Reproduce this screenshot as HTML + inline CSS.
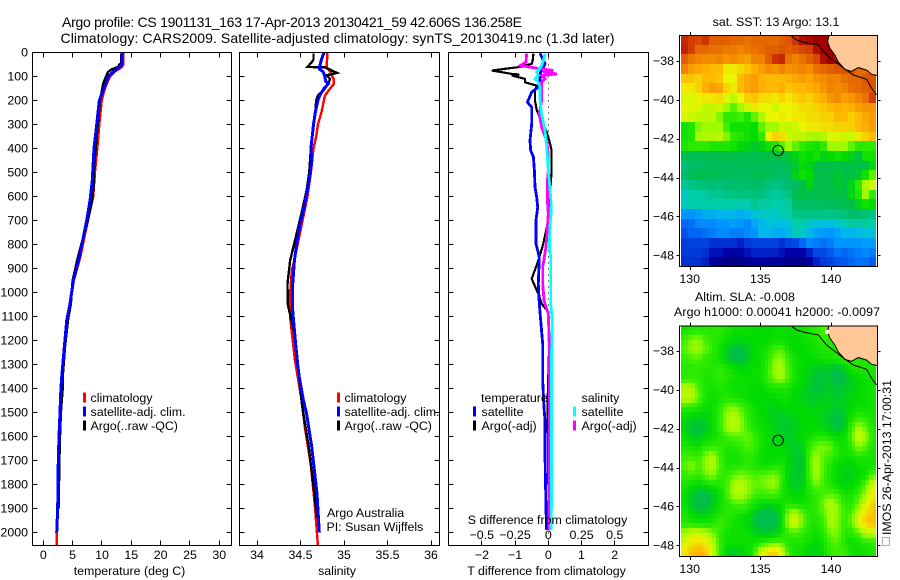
<!DOCTYPE html>
<html>
<head>
<meta charset="utf-8">
<title>Argo profile</title>
<style>
html,body{margin:0;padding:0;background:#fff;}
svg{display:block;}
text{font-family:"Liberation Sans",sans-serif;font-size:12.4px;fill:#000;}
.ttl{font-size:14px;}
</style>
</head>
<body>
<svg id="chart" xmlns="http://www.w3.org/2000/svg" width="900" height="580" viewBox="0 0 900 580">
  <rect width="900" height="580" fill="#fff"/>
  <text class="ttl" x="62" y="27" textLength="460" lengthAdjust="spacing">Argo profile: CS 1901131_163 17-Apr-2013 20130421_59 42.606S 136.258E</text>
  <text class="ttl" x="60.5" y="43" textLength="554" lengthAdjust="spacing">Climatology: CARS2009. Satellite-adjusted climatology: synTS_20130419.nc (1.3d later)</text>
  <g id="layer-maps"></g>
  <g id="layer-panels"></g>

  <text x="129.5" y="575" text-anchor="middle">temperature (deg C)</text>
  <text x="337" y="575" text-anchor="middle">salinity</text>
  <text x="546.5" y="575" text-anchor="middle">T difference from climatology</text>
  <text x="547.5" y="524" text-anchor="middle">S difference from climatology</text>

  <g>
    <rect x="83" y="392.5" width="3" height="10" fill="#f00"/>
    <rect x="83" y="406.5" width="3" height="10" fill="#00f"/>
    <rect x="83" y="420.5" width="3" height="10" fill="#000"/>
    <text x="90.5" y="402">climatology</text>
    <text x="90.5" y="416">satellite-adj. clim.</text>
    <text x="90.5" y="430">Argo(..raw -QC)</text>
  </g>
  <g>
    <rect x="337" y="392.5" width="3" height="10" fill="#f00"/>
    <rect x="337" y="406.5" width="3" height="10" fill="#00f"/>
    <rect x="337" y="420.5" width="3" height="10" fill="#000"/>
    <text x="344.5" y="402">climatology</text>
    <text x="344.5" y="416">satellite-adj. clim.</text>
    <text x="344.5" y="430">Argo(..raw -QC)</text>
  </g>
  <text x="327" y="517">Argo Australia</text>
  <text x="326.5" y="531">PI: Susan Wijffels</text>

  <g>
    <text x="481" y="402">temperature</text>
    <rect x="473" y="406.5" width="3" height="10" fill="#00f"/>
    <rect x="473" y="420.5" width="3" height="10" fill="#000"/>
    <text x="481.5" y="416">satellite</text>
    <text x="481.5" y="430">Argo(-adj)</text>
    <text x="581.5" y="402">salinity</text>
    <rect x="573" y="406.5" width="3" height="10" fill="#0ff"/>
    <rect x="573" y="420.5" width="3" height="10" fill="#f0f"/>
    <text x="581.5" y="416">satellite</text>
    <text x="581.5" y="430">Argo(-adj)</text>
  </g>

  <text x="776" y="26" text-anchor="middle">sat. SST: 13 Argo: 13.1</text>
  <text x="695" y="301">Altim. SLA: -0.008</text>
  <text x="674" y="316" textLength="206" lengthAdjust="spacing">Argo h1000: 0.00041 h2000: -0.0097</text>
  <rect x="882.5" y="537.5" width="7" height="8" fill="none" stroke="#555" stroke-dasharray="1 1"/>
  <text transform="translate(891,535) rotate(-90)" textLength="155" lengthAdjust="spacing">IMOS 26-Apr-2013 17:00:31</text>
</svg>
<script>
// ---- Axis tick data ----
const depthTicks = [0,100,200,300,400,500,600,700,800,900,1000,1100,1200,1300,1400,1500,1600,1700,1800,1900,2000];
const tempTicks = [0,5,10,15,20,25,30];
const salTicks = [34,34.5,35,35.5,36];
const salTickLabels = ['34','34.5','35','35.5','36'];
const tDiffTicks = [-2,-1,0,1,2];
const tDiffLabels = ['\u22122','\u22121','0','1','2'];
const sDiffTicks = [-0.5,-0.25,0,0.25,0.5];
const sDiffLabels = ['\u22120.5','\u22120.25','0','0.25','0.5'];
const lonTicks = [130,135,140];
const latTicks = [-38,-40,-42,-44,-46,-48];

// ---- Temperature profile series ----
const tempClimDepth = [0,50,60,80,100,130,150,200,300,400,500,600,700,770,853,950,1047,1117,1228,1353,1400,1500,1600,1700,1800,1900,2000,2054];
const tempClimValue = [13.64,13.6,13.4,12.2,11.4,10.8,10.5,9.95,9.55,9.2,8.8,8.5,7.6,7.0,6.3,5.2,4.6,4.05,3.62,3.18,3.0,2.8,2.65,2.52,2.48,2.39,2.3,2.3];
const tempArgoDepth = [5,45,50,60,70,80,100,130,150,200,350,400,500,533,617,700,770,853,950,1047,1117,1228,1353,1400,1500,1600,1700,1900];
const tempArgoValue = [13.3,13.3,12.96,12.8,11.66,11.08,10.69,10.2,10.06,9.66,9.1,8.93,8.6,8.7,8.3,7.6,6.8,5.9,5.0,4.7,4.2,3.7,3.3,3.3,3.0,2.85,2.75,2.6];
const tempSatDepth = [0,50,60,80,100,130,150,200,300,400,500,533,617,700,770,853,950,1047,1117,1228,1353,1400,1500,1600,1700,1900,2000];
const tempSatValue = [13.47,13.4,13.07,11.93,11.08,10.69,10.35,9.55,9.1,8.64,8.42,8.36,7.96,7.4,6.82,6.14,5.12,4.55,3.98,3.58,3.14,3.0,2.85,2.68,2.56,2.45,2.28];

// ---- Salinity profile series ----
const salClimDepth = [0,60,80,110,130,150,180,250,300,350,400,500,600,853,908,1006,1103,1200,1283,1367,1443,1561,1714,1894,2054];
const salClimValue = [34.81,34.8,34.84,34.88,34.885,34.84,34.78,34.74,34.7,34.68,34.65,34.62,34.58,34.437,34.4,34.38,34.38,34.41,34.437,34.475,34.51,34.55,34.617,34.667,34.7];
const salArgoDepth = [5,30,40,60,62,70,85,95,110,130,150,180,200,250,300,400,500,575,672,783,867,964,1047,1103,1186,1463,1645,1839,1940];
const salArgoValue = [34.65,34.65,34.63,34.58,34.78,34.83,34.92,34.8,34.84,34.82,34.78,34.7,34.68,34.67,34.65,34.62,34.6,34.57,34.51,34.437,34.38,34.35,34.353,34.387,34.44,34.515,34.595,34.66,34.69];
const salSatDepth = [0,30,60,70,80,100,120,130,150,180,200,250,300,400,450,533,630,728,797,867,964,1075,1186,1269,1353,1443,1506,1645,1839,2000];
const salSatValue = [34.77,34.74,34.72,34.72,34.76,34.78,34.79,34.82,34.77,34.72,34.7,34.67,34.65,34.62,34.63,34.6,34.55,34.49,34.456,34.43,34.41,34.41,34.437,34.456,34.486,34.53,34.57,34.63,34.69,34.716];

// ---- Difference-from-climatology series ----
const diffTArgoDepth = [5,33,47,61,75,89,92,96,110,124,138,160,200,240,289,330,367,408,450,492,700,797,867,943,1006,1047,1082,1242,1460,1800];
const diffTArgoValue = [-0.45,-0.47,-0.5,-0.9,-1.7,-1.1,-0.87,-1.1,-0.7,-0.7,-0.35,-0.4,-0.4,-0.35,-0.2,-0.05,0.03,0.1,0.1,0.1,0,-0.15,-0.3,-0.5,-0.3,-0.2,0,0.02,-0.02,0];
const diffTSatDepth = [3,33,47,89,117,144,165,207,228,297,367,408,436,492,561,603,644,700,797,853,964,1047,1117,1214,1367,1478,1534,1672,1900,1990];
const diffTSatValue = [-0.25,-0.15,-0.1,-0.25,-0.25,-0.3,-0.5,-0.63,-0.5,-0.5,-0.55,-0.53,-0.45,-0.42,-0.4,-0.35,-0.32,-0.37,-0.37,-0.27,-0.3,-0.27,-0.23,-0.17,-0.17,-0.13,-0.1,-0.1,-0.07,-0.05];
const diffSArgoDepth = [5,40,54,68,75,82,89,96,110,124,158,200,256,311,367,422,492,533,617,672,728,811,894,964,1033,1089,1242,1450,1800,1990];
const diffSArgoValue = [-0.163,-0.168,-0.21,-0.06,0.038,-0.037,0.063,-0.05,-0.025,-0.05,-0.05,-0.05,-0.068,-0.05,-0.012,0,0,-0.007,-0.007,0,-0.007,-0.017,-0.042,-0.042,-0.032,0,0.008,0.008,0.003,0.003];
const diffSSatDepth = [5,33,54,82,96,110,124,144,200,256,325,394,492,561,631,672,728,811,853,1047,1117,1242,1367,1840,1990];
const diffSSatValue = [-0.025,-0.037,-0.05,-0.087,-0.075,-0.1,-0.075,-0.062,-0.062,-0.05,-0.025,-0.012,0,0.012,0.02,0.02,0.012,0.008,0.018,0.018,0.03,0.025,0.025,0.025,0.02];

// ---- Map data (0.5 degree rows, north to south) ----
const sstGrid = [
[16.5,16.3,16.2,16.4,16,16,16,15.9,15.9,15.8,15.9,15.9,15.9,15.9,16,16.1,16.4,16.8,16.9,17,17,17,16,16,16,16,16,16],
[16.6,16.3,15.9,15.9,15.8,15.8,15.7,15.7,15.6,15.7,15.8,15.9,16,16,16.1,16,16.1,16.2,16.3,16.8,17,17,16.8,16.5,16.5,16.5,16.5,16.5],
[16,15.7,15.6,15.5,15.5,15.6,15.4,15.5,15.4,15.3,15.6,15.6,16,16.4,16.5,15.8,15.6,15.8,16,16.2,16.8,17,16.8,16.5,16.4,16.3,16.3,16.3],
[15.6,15.3,15.2,15.1,15,15,14.6,14.6,14.7,14.9,15.1,15.3,15.5,15.4,15.6,15.4,15.5,15.6,15.5,15.8,15.9,16,16.1,16.1,16.1,15.9,15.9,15.9],
[14.9,14.9,14.8,15,15,14.9,14.5,14.5,15,15.2,15.3,15.1,15,15,15,15.1,15.2,15.3,15.2,15.4,15.5,15.6,15.6,15.8,15.9,15.9,16.1,16.1],
[14.6,14.6,14.8,15.1,15.3,15.2,14.8,14.6,15,15.2,15.3,15.1,15,15,15.1,14.9,15,15,15.1,15.2,15.4,15.6,15.5,15.6,15.8,15.9,16,16.1],
[14.4,14.4,14.5,14.6,14.6,14.7,14.4,14.2,14.5,14.8,14.9,14.7,14.7,14.6,14.8,14.6,14.8,14.9,14.8,15,15.1,15.4,15.5,15.3,15.4,15.6,15.8,16.3],
[14.5,14.4,14.4,14.2,14.2,14.3,14,13.8,14,14.3,14.6,14.5,14.5,14.3,14.5,14.5,14.6,14.7,14.7,14.8,14.9,15,15.1,15,15.1,15.3,15.4,15.4],
[14.4,14.3,14.2,14.2,14.2,13.9,13.6,13.6,13.7,13.5,13.8,14.1,14.5,14.5,14.6,14.5,14.6,14.6,14.7,14.7,14.8,14.8,15,15,14.8,15,15.2,15.3],
[13.4,13.5,13.9,14,14,14,13.7,13.4,13.4,13.4,13.3,13.8,14,14,14.3,14.2,14.3,14.5,14.6,14.6,14.7,14.7,14.8,14.8,14.8,15,15.1,15.3],
[13.4,13.5,14,14.1,14.1,14.2,13.9,13.6,13.5,13.4,13.3,13.6,14.5,14.8,14.7,14.3,14.2,14.2,14.1,14,14.1,14.4,14.4,14.3,14.3,14.6,14.8,15],
[13.5,13.6,13.6,13.6,13.5,13.5,13.5,13.4,13.3,13.2,13.1,13.2,13.4,13.5,13.8,14,13.8,13.6,13.5,13.4,13.6,14,14,14,13.8,13.6,13.6,13.6],
[12.9,12.9,12.8,12.9,12.9,12.9,13,12.9,12.9,12.9,12.9,12.9,13,13,13,13.1,13.2,13.4,13.3,13.4,13.2,13.3,13.4,13.3,13.2,13,13.4,13.4],
[12.4,12.6,12.6,12.7,12.8,12.7,12.7,12.7,12.7,12.8,12.8,12.8,12.7,12.7,12.7,12.9,13.1,13.3,13.2,13,13,12.9,13,12.9,13,13,13,13.3],
[12.6,12.8,12.9,12.9,12.8,12.8,12.7,12.7,12.7,12.7,12.8,12.9,12.8,12.7,12.6,12.7,13.2,13.4,13.3,13,13,13,13.1,13,13,13.1,13.4,13.8],
[12.2,12.3,12.4,12.4,12.5,12.4,12.5,12.5,12.5,12.6,12.6,12.6,12.4,12.3,12.4,12.5,12.7,13,13.2,13,12.9,13,13.1,13,13.2,13.6,14.1,14.3],
[11.8,12,12,12.1,12.2,12.2,12.3,12.3,12.4,12.3,12.4,12.4,12.2,12.1,12.2,12.3,12.9,13,12.9,12.9,13,13,13,13,13.2,13.5,14,13.6],
[11.9,12,12,12,12,12,12,12,11.9,12,12.2,12.1,12.1,12,12,12.1,12.6,12.6,12.6,12.6,12.7,12.7,12.8,12.9,13,13.2,13.4,13.3],
[11,11,11.1,11.3,11.3,11.4,11.4,11.4,11.3,11.4,11.6,11.8,11.8,11.8,11.9,12,12.3,12.3,12.3,12.3,12.3,12.3,12.3,12.4,12.5,12.5,12.4,12.3],
[10.6,10.7,10.9,10.9,10.9,11,11,11.1,11,10.9,11.2,11.4,11.6,11.6,11.5,11.6,12,12,11.8,11.6,11.6,11.5,11.7,12,12.1,12.1,12.1,12],
[10.4,10.6,10.6,10.7,10.8,10.9,10.9,10.8,10.8,10.9,11,11.4,11.4,11.3,11.3,11.4,11.9,11.8,11.4,11.2,11.1,11,11.2,11.4,11.4,11.5,11.6,11.7],
[10.1,10.2,10.2,10.2,10,10,10,10,9.9,10.1,10.2,10.2,10.2,10.2,10,10.2,10.3,10.6,10.9,10.8,10.7,10.8,11,11,11,11,11.1,11.1],
[10.1,10.1,10.1,10,9.8,9.8,9.7,9.6,9.7,9.8,9.9,9.9,9.9,9.9,9.8,9.7,9.7,9.7,9.9,10.3,10.3,10.5,10.7,10.6,10.7,10.8,10.9,10.8],
[10,10,10,9.9,9.6,9.4,9.3,9.3,9.3,9.5,9.6,9.6,9.5,9.5,9.5,9.4,9.4,9.4,9.6,9.9,10.1,10.2,10.4,10.5,10.6,10.7,10.7,10.5]
];
// Sea level anomaly in centimetres
const slaGrid = [
[2,3,4,4,4,5,3,1,1,1,1,0,0,1,1,1,1,2,3,5,8,6,2,2,2,2,2,2],
[6,10,11,7,5,3,1,0,-1,0,0,0,0,1,1,0,0,1,2,3,5,4,2,2,2,2,2,2],
[8,11,12,9,5,2,-2,-5,-6,-3,0,1,3,7,8,2,0,0,1,2,3,3,3,4,2,2,2,2],
[5,7,8,5,4,2,-2,-5,-6,-3,0,1,5,10,11,5,1,0,0,1,2,3,4,6,5,4,3,3],
[4,4,5,4,4,5,4,1,0,0,1,1,6,12,13,6,2,0,-1,-3,-3,-4,-6,-2,2,3,3,3],
[5,6,5,3,3,5,4,2,1,1,1,2,6,10,12,7,2,0,-2,-5,-3,-4,-6,-4,-2,0,1,1],
[14,13,8,3,2,3,2,1,1,1,0,0,2,3,3,2,0,-1,-3,-5,-3,-3,-4,-3,-2,0,1,2],
[15,14,9,2,1,2,4,3,2,1,0,-1,0,0,1,1,-1,-2,-3,-3,-2,-2,-3,-2,-1,0,1,2],
[5,5,3,1,1,4,9,10,8,4,1,0,-1,-2,0,0,0,0,-1,-1,-1,-2,-3,-2,0,1,1,2],
[0,-1,-2,-2,1,5,11,14,11,5,2,0,-1,-2,-3,-2,-1,0,0,-1,-2,-4,-5,-3,2,5,4,2],
[-1,-4,-5,-3,0,5,11,15,12,6,3,1,0,-2,-3,-3,-2,-1,0,0,-1,-3,-5,-2,6,13,8,3],
[1,-3,-4,-1,1,3,7,8,8,9,6,2,0,-1,-2,-3,-1,0,1,3,3,1,0,1,8,18,12,4],
[3,2,1,4,5,5,3,4,5,8,6,2,0,0,0,-2,-3,-1,5,9,10,9,3,2,5,12,8,3],
[6,6,5,10,13,7,3,1,3,5,4,1,0,0,1,-1,-3,-3,7,12,8,6,3,1,2,4,3,2],
[8,11,7,11,14,8,3,3,3,4,3,1,1,2,3,-1,-3,-4,8,13,7,3,0,-1,-1,1,1,2],
[5,7,5,9,11,6,5,8,10,9,7,8,9,10,5,-1,-3,-3,7,13,7,2,0,-2,-2,0,2,8],
[3,1,-1,1,3,3,6,12,15,11,9,9,11,12,4,-1,-3,-2,5,10,6,3,0,-1,0,2,8,18],
[1,-2,-5,-6,-3,0,6,13,14,11,7,6,7,7,3,0,-1,0,3,5,7,8,6,2,2,6,12,20],
[1,-3,-6,-6,-3,1,4,6,8,6,2,0,-1,0,1,4,1,2,3,5,10,14,10,4,4,10,18,26],
[3,0,-2,-2,0,3,4,3,2,1,-3,-6,-7,-5,0,12,15,8,4,5,8,13,11,6,8,16,24,27],
[4,3,2,2,3,6,5,2,1,-1,-4,-6,-7,-5,0,14,17,9,4,3,6,14,10,5,9,19,26,29],
[12,16,16,14,10,6,2,1,1,1,-1,-3,-3,-2,2,6,7,5,3,1,4,10,10,4,4,8,14,14],
[17,22,24,22,15,6,1,2,1,2,2,4,6,8,7,3,2,3,1,-1,2,7,8,3,1,2,4,5],
[22,27,30,27,18,6,-1,-3,-1,0,5,17,24,26,18,5,2,1,-1,-2,1,5,7,6,2,1,2,3]
];
const coastLon = [139.86,139.76,139.93,140.28,140.52,140.99,141.46,141.93,142.52,142.87,143.28];
const coastLat = [-36.66,-37.0,-37.35,-37.7,-38.05,-38.44,-38.53,-38.34,-38.47,-38.68,-38.75];
const isobathLon = [137.1,137.57,138.16,139.1,139.7,140.75,141.58,142.52,142.87,143.23];
const isobathLat = [-36.66,-36.92,-37.05,-37.17,-37.7,-38.29,-38.72,-38.94,-39.4,-39.75];
const profileLon = 136.258;
const profileLat = -42.606;

// ---- Scales ----
const NS = 'http://www.w3.org/2000/svg';
const root = document.getElementById('chart');
const panelLayer = document.getElementById('layer-panels');
const mapLayer = document.getElementById('layer-maps');
const panelTop = 52.5, panelBottom = 545.5;
function depthY(d){ return 52.5 + d * 0.24; }
function tempX(v){ return 43.3 + v * 5.867; }
function salX(v){ return 257 + (v - 34) * 87; }
function tDiffX(v){ return 548.3 + v * 33.2; }
function sDiffX(v){ return 548.3 + v * 133; }

function el(tag, attrs, parent){
  const e = document.createElementNS(NS, tag);
  for (const k in attrs) e.setAttribute(k, attrs[k]);
  parent.appendChild(e);
  return e;
}

function drawSeries(depths, values, xFn, colour, width, name){
  const pts = depths.map((d, i) => xFn(values[i]).toFixed(1) + ',' + depthY(d).toFixed(1)).join(' ');
  const line = el('polyline', {points: pts, fill: 'none', stroke: colour, 'stroke-width': width, 'shape-rendering': 'crispEdges', 'stroke-linejoin': 'miter'}, panelLayer);
  
  
}

function drawPanel(x0, x1, xTickPos, xTickText, showDepthLabels, name){
  const box = el('rect', {x: x0, y: panelTop, width: x1 - x0, height: panelBottom - panelTop, fill: 'none', stroke: '#000', 'stroke-width': 1, 'shape-rendering': 'crispEdges'}, panelLayer);
  
  
  depthTicks.forEach(d => {
    const y = Math.round(depthY(d) - 0.5) + 0.5;
    const t1 = el('line', {x1: x0, x2: x0 + 5, y1: y, y2: y, stroke: '#000', 'shape-rendering': 'crispEdges'}, panelLayer);
    
    
    const t2 = el('line', {x1: x1 - 5, x2: x1, y1: y, y2: y, stroke: '#000', 'shape-rendering': 'crispEdges'}, panelLayer);
    
    
    if (showDepthLabels) {
      const lab = el('text', {x: x0 - 4.5, y: depthY(d) + 4, 'text-anchor': 'end'}, panelLayer);
      lab.textContent = d;
      
      
    }
  });
  xTickPos.forEach((x, i) => {
    const xp = Math.round(x - 0.5) + 0.5;
    const t1 = el('line', {x1: xp, x2: xp, y1: panelTop, y2: panelTop + 5, stroke: '#000', 'shape-rendering': 'crispEdges'}, panelLayer);
    
    
    const t2 = el('line', {x1: xp, x2: xp, y1: panelBottom - 5, y2: panelBottom, stroke: '#000', 'shape-rendering': 'crispEdges'}, panelLayer);
    
    
    const lab = el('text', {x: x, y: 559, 'text-anchor': 'middle'}, panelLayer);
    lab.textContent = xTickText[i];
    
    
  });
}

// ---- Panels ----
drawSeries(tempClimDepth, tempClimValue, tempX, '#f00', 2.4, 'temperature-climatology-line');
drawSeries(tempArgoDepth, tempArgoValue, tempX, '#000', 2.4, 'temperature-argo-line');
drawSeries(tempSatDepth, tempSatValue, tempX, '#00f', 3, 'temperature-satellite-line');
drawPanel(32.5, 231.5, tempTicks.map(tempX), tempTicks.map(String), true, 'temperature-panel');

drawSeries(salClimDepth, salClimValue, salX, '#f00', 2.4, 'salinity-climatology-line');
drawSeries(salArgoDepth, salArgoValue, salX, '#000', 2.4, 'salinity-argo-line');
drawSeries(salSatDepth, salSatValue, salX, '#00f', 3, 'salinity-satellite-line');
drawPanel(239.5, 439.5, salTicks.map(salX), salTickLabels, false, 'salinity-panel');

const zeroLine = el('line', {x1: tDiffX(0), x2: tDiffX(0), y1: panelTop, y2: panelBottom, stroke: '#000', 'stroke-dasharray': '1 5', 'shape-rendering': 'crispEdges'}, panelLayer);


drawSeries(diffTArgoDepth, diffTArgoValue, tDiffX, '#000', 2.2, 'diff-t-argo-line');
drawSeries(diffTSatDepth, diffTSatValue, tDiffX, '#00f', 2.8, 'diff-t-satellite-line');
drawSeries(diffSArgoDepth, diffSArgoValue, sDiffX, '#f0f', 2.8, 'diff-s-argo-line');
drawSeries(diffSSatDepth, diffSSatValue, sDiffX, '#0ff', 2.8, 'diff-s-satellite-line');
drawPanel(448.5, 648.5, tDiffTicks.map(tDiffX), tDiffLabels, false, 'difference-panel');
sDiffTicks.forEach((v, i) => {
  const lab = el('text', {x: sDiffX(v), y: 539, 'text-anchor': 'middle'}, panelLayer);
  lab.textContent = sDiffLabels[i];
  
  
});

// ---- Maps ----
function lonX(lon){ return 689.7 + (lon - 130) * 14.13; }
function latY(lat, y38){ return y38 + (-38 - lat) * 19.43; }

const colourStops = [
  [9.3,0,0,130],[9.7,0,0,170],[10,0,50,210],[10.5,0,90,240],[11,0,150,255],[11.5,0,190,230],
  [12,0,205,170],[12.5,0,190,110],[13,0,190,70],[13.3,0,220,0],[13.7,60,240,0],[14,160,250,0],
  [14.5,235,245,0],[15,255,185,0],[15.5,245,140,0],[16,225,95,0],[16.5,200,40,0],[17,160,0,0]
];
function colourFor(v){
  const s = colourStops;
  if (v <= s[0][0]) return 'rgb(' + s[0].slice(1) + ')';
  for (let i = 1; i < s.length; i++) {
    if (v <= s[i][0]) {
      const f = (v - s[i-1][0]) / (s[i][0] - s[i-1][0]);
      const c = [1,2,3].map(k => Math.round(s[i-1][k] + f * (s[i][k] - s[i-1][k])));
      return 'rgb(' + c + ')';
    }
  }
  return 'rgb(' + s[s.length-1].slice(1) + ')';
}
function slaColourValue(cm){ return 13.3 + cm * 0.06; }

// Sample a grid at fractional row/column, for the smooth altimetry field.
function sampleGrid(grid, r, c){
  const maxR = grid.length - 1, maxC = grid[0].length - 1;
  const rr = Math.max(0, Math.min(maxR, r)), cc = Math.max(0, Math.min(maxC, c));
  const r0 = Math.floor(rr), c0 = Math.floor(cc);
  const r1 = Math.min(maxR, r0 + 1), c1 = Math.min(maxC, c0 + 1);
  const fr = rr - r0, fc = cc - c0;
  return (grid[r0][c0] * (1 - fc) + grid[r0][c1] * fc) * (1 - fr) + (grid[r1][c0] * (1 - fc) + grid[r1][c1] * fc) * fr;
}

function drawMap(name, grid, toScale, y38, top, bottom, sub){
  const clipId = name + '-clip';
  const defs = el('defs', {}, mapLayer);
  const cp = el('clipPath', {id: clipId}, defs);
  el('rect', {x: 679.5, y: top, width: 198, height: bottom - top}, cp);
  const g = el('g', {'clip-path': 'url(#' + clipId + ')'}, mapLayer);
  
  
  const rows = grid.length * sub, cols = grid[0].length * sub;
  const dataLeft = 681, dataWidth = 195, rowH = (bottom - top) / rows, colW = dataWidth / cols;
  for (let r = 0; r < rows; r++) {
    for (let c = 0; c < cols; c++) {
      const v = sampleGrid(grid, (r + 0.5) / sub - 0.5, (c + 0.5) / sub - 0.5);
      const x0 = Math.round(dataLeft + c * colW), x1 = Math.round(dataLeft + (c + 1) * colW);
      const y0 = Math.round(top + r * rowH), y1 = Math.round(top + (r + 1) * rowH);
      const cell = el('rect', {x: x0, y: y0, width: x1 - x0, height: y1 - y0, fill: colourFor(toScale(v)), 'shape-rendering': 'crispEdges'}, g);
      
      
    }
  }
  const landPts = coastLon.map((lon, i) => lonX(lon).toFixed(1) + ',' + latY(coastLat[i], y38).toFixed(1));
  const land = el('polygon', {points: landPts.join(' ') + ' 880,' + latY(coastLat[coastLat.length-1], y38).toFixed(1) + ' 880,' + (top - 3) + ' ' + lonX(coastLon[0]).toFixed(1) + ',' + (top - 3), fill: '#ffc896', stroke: 'none'}, g);
  
  
  const coast = el('polyline', {points: landPts.join(' '), fill: 'none', stroke: '#000', 'stroke-width': 1}, g);
  
  
  const iso = el('polyline', {points: isobathLon.map((lon, i) => lonX(lon).toFixed(1) + ',' + latY(isobathLat[i], y38).toFixed(1)).join(' '), fill: 'none', stroke: '#000', 'stroke-width': 1}, g);
  
  
  const frame = el('rect', {x: 679.5, y: top + 0.5, width: 198, height: bottom - top - 1, fill: 'none', stroke: '#000', 'shape-rendering': 'crispEdges'}, mapLayer);
  
  
  const marker = el('circle', {cx: lonX(profileLon), cy: latY(profileLat, y38), r: 5.2, fill: 'none', stroke: '#000', 'stroke-width': 1}, mapLayer);
  
  
  lonTicks.forEach(lon => {
    const x = Math.round(lonX(lon)) + 0.5;
    const tt = el('line', {x1: x, x2: x, y1: top - 3, y2: top, stroke: '#000', 'shape-rendering': 'crispEdges'}, mapLayer);
    
    
    const tb = el('line', {x1: x, x2: x, y1: bottom, y2: bottom + 3, stroke: '#000', 'shape-rendering': 'crispEdges'}, mapLayer);
    
    
    const lab = el('text', {x: lonX(lon), y: bottom + 16, 'text-anchor': 'middle'}, mapLayer);
    lab.textContent = lon;
    
    
  });
  latTicks.forEach(lat => {
    const y = Math.round(latY(lat, y38)) + 0.5;
    const tl = el('line', {x1: 676.5, x2: 679.5, y1: y, y2: y, stroke: '#000', 'shape-rendering': 'crispEdges'}, mapLayer);
    
    
    const tr = el('line', {x1: 877.5, x2: 880.5, y1: y, y2: y, stroke: '#000', 'shape-rendering': 'crispEdges'}, mapLayer);
    
    
    const lab = el('text', {x: 674, y: latY(lat, y38) + 4, 'text-anchor': 'end'}, mapLayer);
    lab.textContent = '\u2212' + Math.abs(lat);
    
    
  });
}

drawMap('sst-map', sstGrid, v => v, 61, 35, 267, 1);
drawMap('sla-map', slaGrid, slaColourValue, 351, 325.5, 557, 2);
const missingCell = el('rect', {x: 825.5, y: 330, width: 3, height: 4, fill: '#fff', 'shape-rendering': 'crispEdges'}, mapLayer);


</script>
</body>
</html>
